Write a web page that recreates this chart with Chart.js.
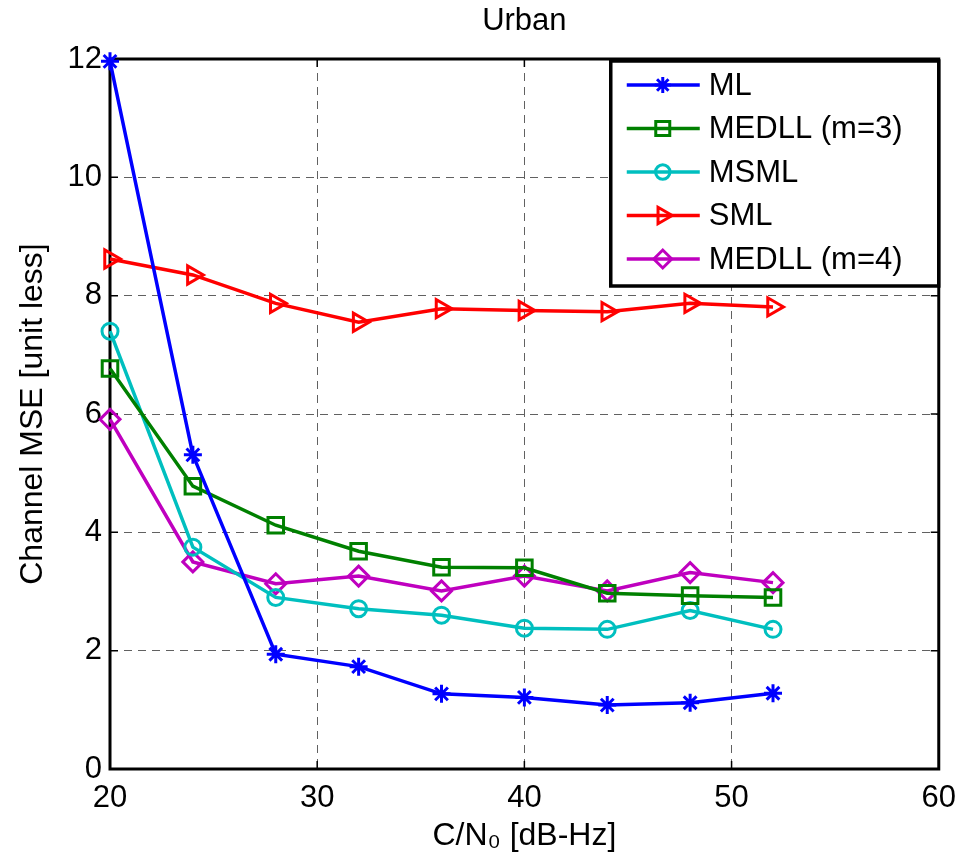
<!DOCTYPE html>
<html>
<head>
<meta charset="utf-8">
<script src="https://cdn.jsdelivr.net/npm/chart.js@4/dist/chart.umd.min.js"></script>
<style>
  body { margin: 0; background: #fff; }
  #wrap { width: 967px; height: 866px; }
</style>
</head>
<body>
<div id="wrap"><canvas id="plot" width="967" height="866"></canvas></div>
<script>
// C/N0 values (dB-Hz)
const cn0 = [20, 24, 28, 32, 36, 40, 44, 48, 52];

// channel MSE per estimator
const mseML     = [11.96, 5.31, 1.94, 1.73, 1.27, 1.21, 1.08, 1.12, 1.28];
const mseMEDLL3 = [6.77, 4.78, 4.12, 3.68, 3.41, 3.40, 2.97, 2.93, 2.90];
const mseMSML   = [7.40, 3.75, 2.90, 2.71, 2.60, 2.38, 2.36, 2.68, 2.36];
const mseSML    = [8.62, 8.35, 7.87, 7.55, 7.78, 7.75, 7.73, 7.87, 7.81];
const mseMEDLL4 = [5.91, 3.50, 3.13, 3.26, 3.01, 3.26, 3.01, 3.32, 3.15];

const xTicks = [20, 30, 40, 50, 60];
const yTicks = [0, 2, 4, 6, 8, 10, 12];

const FONT = '"Liberation Sans", Arial, Helvetica, sans-serif';

function pts(ys) {
    return cn0.map((x, i) => ({x: x, y: ys[i]}));
}

function series(label, ys, color, style, radius, rotation) {
    return {
        label: label,
        data: pts(ys),
        borderColor: color,
        backgroundColor: 'rgba(0,0,0,0)',
        borderWidth: 3.5,
        pointStyle: style,
        pointRadius: radius,
        pointHoverRadius: radius,
        pointRotation: rotation || 0,
        pointBorderColor: color,
        pointBackgroundColor: 'rgba(0,0,0,0)',
        pointBorderWidth: 3,
        tension: 0,
        clip: false
    };
}

// box round the axes + inward tick marks, matlab style
const axesBox = {
    id: 'axesBox',
    beforeDatasetsDraw(chart) {
        const ctx = chart.ctx;
        const a = chart.chartArea;
        const xs = chart.scales.x, ys = chart.scales.y;
        ctx.save();
        ctx.strokeStyle = '#000';
        ctx.lineWidth = 1.5;
        ctx.beginPath();
        xTicks.forEach(v => {
            const px = xs.getPixelForValue(v);
            ctx.moveTo(px, a.bottom); ctx.lineTo(px, a.bottom - 8);
            ctx.moveTo(px, a.top); ctx.lineTo(px, a.top + 8);
        });
        yTicks.forEach(v => {
            const py = ys.getPixelForValue(v);
            ctx.moveTo(a.left, py); ctx.lineTo(a.left + 8, py);
            ctx.moveTo(a.right, py); ctx.lineTo(a.right - 8, py);
        });
        ctx.stroke();
        ctx.lineWidth = 3;
        ctx.strokeRect(a.left, a.top, a.right - a.left, a.bottom - a.top);

        // title centred over the axes, not the canvas
        ctx.fillStyle = '#000';
        ctx.font = '31px ' + FONT;
        ctx.textAlign = 'center';
        ctx.textBaseline = 'middle';
        ctx.fillText('Urban', (a.left + a.right) / 2, 21);
        ctx.restore();
    }
};

// legend sits inside the plot, top right corner
const insideLegend = {
    id: 'insideLegend',
    afterDatasetsDraw(chart) {
        const ctx = chart.ctx;
        const a = chart.chartArea;
        const w = 328, h = 225;
        const x0 = a.right - w, y0 = a.top + 2;
        ctx.save();
        ctx.fillStyle = '#fff';
        ctx.fillRect(x0, y0, w, h);
        ctx.strokeStyle = '#000';
        ctx.lineWidth = 3.5;
        ctx.strokeRect(x0, y0, w, h);
        chart.data.datasets.forEach((ds, i) => {
            const y = y0 + 24 + i * 43.5;
            ctx.strokeStyle = ds.borderColor;
            ctx.lineWidth = 3.5;
            ctx.beginPath();
            ctx.moveTo(x0 + 16, y);
            ctx.lineTo(x0 + 89, y);
            ctx.stroke();
            ctx.fillStyle = 'rgba(0,0,0,0)';
            ctx.lineWidth = 3;
            Chart.helpers.drawPoint(ctx, {
                pointStyle: ds.pointStyle,
                rotation: ds.pointRotation,
                radius: ds.pointRadius * 0.9,
                borderWidth: 3
            }, x0 + 52, y);
            ctx.fillStyle = '#000';
            ctx.font = '31px ' + FONT;
            ctx.textAlign = 'left';
            ctx.textBaseline = 'middle';
            ctx.fillText(ds.label, x0 + 98, y + 1);
        });
        ctx.restore();
    }
};

const gridStyle = {
    color: 'rgba(0,0,0,0.62)',
    lineWidth: 1,
    drawTicks: false
};

new Chart(document.getElementById('plot'), {
    type: 'line',
    data: {
        datasets: [
            series('ML', mseML, '#0000ff', 'star', 9),
            series('MEDLL (m=3)', mseMEDLL3, '#008000', 'rect', 11),
            series('MSML', mseMSML, '#00bfbf', 'circle', 8),
            series('SML', mseSML, '#ff0000', 'triangle', 10.5, 90),
            series('MEDLL (m=4)', mseMEDLL4, '#bf00bf', 'rectRot', 10)
        ]
    },
    options: {
        responsive: false,
        animation: false,
        layout: { padding: { left: 0, right: 26, top: 59, bottom: 0 } },
        scales: {
            x: {
                type: 'linear',
                min: 20,
                max: 60,
                afterFit: s => { s.height = 97; },
                afterBuildTicks: s => { s.ticks = xTicks.map(v => ({value: v})); },
                ticks: { color: '#000', font: { family: FONT, size: 31 }, padding: 11, maxRotation: 0, autoSkip: false },
                grid: gridStyle,
                border: { display: false, dash: [8, 6] },
                title: { display: true, text: 'C/N\u2080 [dB-Hz]', color: '#000', font: { family: FONT, size: 32 }, padding: { top: 0, bottom: 11 } }
            },
            y: {
                min: 0,
                max: 12,
                afterFit: s => { s.width = 110; },
                afterBuildTicks: s => { s.ticks = yTicks.map(v => ({value: v})); },
                ticks: { color: '#000', font: { family: FONT, size: 31 }, padding: 8, autoSkip: false },
                grid: gridStyle,
                border: { display: false, dash: [8, 6] },
                title: { display: true, text: 'Channel MSE [unit less]', color: '#000', font: { family: FONT, size: 32 }, padding: { top: 14, bottom: 0 } }
            }
        },
        plugins: {
            legend: { display: false },
            tooltip: { enabled: false },
            title: { display: false }
        }
    },
    plugins: [axesBox, insideLegend]
});
</script>
</body>
</html>
